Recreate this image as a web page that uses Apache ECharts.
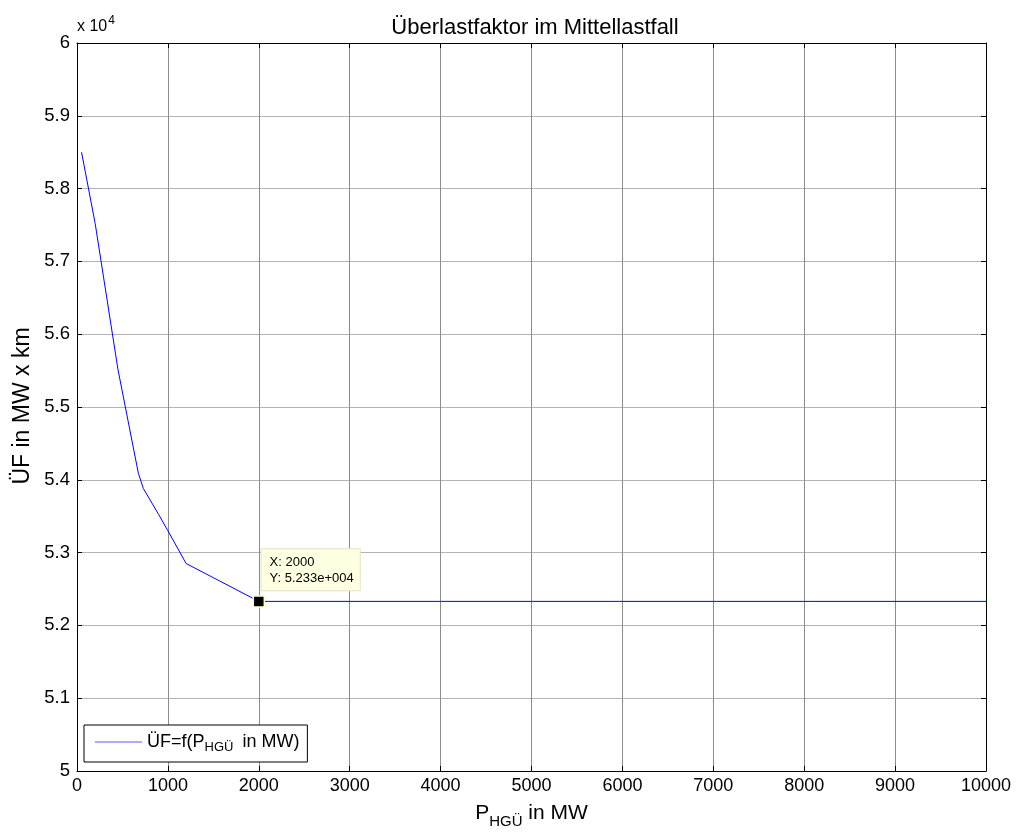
<!DOCTYPE html>
<html lang="de">
<head>
    <meta charset="UTF-8">
    <title>Überlastfaktor</title>
    <script src="https://cdn.jsdelivr.net/npm/echarts@6/dist/echarts.min.js"></script>
</head>
<body style="margin:0;background:#fff">
    <div id="main" style="width: 1017px; height: 835px"></div>
    <script type="text/javascript">
      // data (P in MW, UF in MW x km)
      const pValues = [50, 200, 450, 675, 730, 900, 1000, 1200, 2000,
                       3000, 4000, 5000, 6000, 7000, 8000, 9000, 10000];
      const ufValues = [58500, 57520, 55520, 54090, 53880, 53520, 53300, 52850, 52330,
                        52330, 52330, 52330, 52330, 52330, 52330, 52330, 52330];
      const xTickLabels = ['0', '1000', '2000', '3000', '4000', '5000',
                           '6000', '7000', '8000', '9000', '10000'];
      const yTickLabels = ['5', '5.1', '5.2', '5.3', '5.4', '5.5', '5.6', '5.7', '5.8', '5.9', '6'];
      const tip = { x: 2000, y: 52330, label: ['X: 2000', 'Y: 5.233e+004'] };

      const font = 'Liberation Sans, Arial, sans-serif';
      const seriesName = 'ÜF=f(P HGÜ in MW)';
      let myChart = echarts.init(document.getElementById('main'));

      let data = pValues.map((p, i) => [p, ufValues[i]]);

      // MATLAB style box: ticks pointing inside on every side
      const boxAxis = {
        axisLine: { show: true, onZero: false, lineStyle: { color: '#000', width: 1 } },
        axisTick: { show: true, inside: true, length: 5, lineStyle: { color: '#000' } }
      };

      let options = {
        animation: false,
        backgroundColor: '#fff',
        title: {
          text: 'Überlastfaktor im Mittellastfall',
          left: 530, top: 12, textAlign: 'center',
          textStyle: { fontFamily: font, fontSize: 22, fontWeight: 'normal', color: '#000' }
        },
        legend: {
          left: 84, top: 725,
          padding: [8, 8, 8, 11],
          backgroundColor: '#fff',
          borderColor: '#000', borderWidth: 1, borderRadius: 0,
          itemWidth: 47, itemHeight: 1,
          icon: 'rect',
          data: [{ name: seriesName, itemStyle: { color: '#5a5aff' } }],
          formatter: () => 'ÜF=f(P{sub|HGÜ} in MW)',
          textStyle: {
            fontFamily: font, fontSize: 18, color: '#000',
            rich: {
              sub: { fontFamily: font, fontSize: 13, padding: [11, 4, 0, 0] }
            }
          }
        },
        grid: { left: 77, right: 31, top: 43, bottom: 64, containLabel: false },
        xAxis: [
          Object.assign({
            type: 'value', min: 0, max: 10000, interval: 1000, position: 'bottom',
            name: 'P{sub|HGÜ} in MW', nameLocation: 'middle', nameGap: 27,
            nameTextStyle: {
              fontFamily: font, fontSize: 21, color: '#000',
              rich: { sub: { fontFamily: font, fontSize: 15, padding: [16, 0, 0, 0] } }
            },
            axisLabel: {
              fontFamily: font, fontSize: 18, color: '#000', margin: 6,
              formatter: (v) => xTickLabels[Math.round(v / 1000)]
            },
            splitLine: { show: true, lineStyle: { color: '#8c8c8c', width: 1 } }
          }, boxAxis),
          Object.assign({
            type: 'value', min: 0, max: 10000, interval: 1000, position: 'top',
            axisLabel: { show: false }, splitLine: { show: false }
          }, boxAxis)
        ],
        yAxis: [
          Object.assign({
            type: 'value', min: 50000, max: 60000, interval: 1000, position: 'left',
            name: 'x 10{sup|4}', nameLocation: 'end', nameGap: 5,
            nameTextStyle: {
              fontFamily: font, fontSize: 16, color: '#000', align: 'left',
              rich: { sup: { fontFamily: font, fontSize: 12, padding: [0, 0, 11, 1] } }
            },
            axisLabel: {
              fontFamily: font, fontSize: 18.5, color: '#000', margin: 7,
              formatter: (v) => yTickLabels[Math.round((v - 50000) / 1000)]
            },
            splitLine: { show: true, lineStyle: { color: '#b4b4b4', width: 1 } }
          }, boxAxis),
          Object.assign({
            type: 'value', min: 50000, max: 60000, interval: 1000, position: 'right',
            axisLabel: { show: false }, splitLine: { show: false }
          }, boxAxis)
        ],
        graphic: [{
          type: 'text', x: 23, y: 406, rotation: Math.PI / 2,
          style: {
            text: 'ÜF in MW x km', fontFamily: font, fontSize: 23, fill: '#000',
            align: 'center', verticalAlign: 'middle'
          }
        }],
        series: [{
          name: seriesName,
          type: 'line',
          data: data,
          showSymbol: false,
          symbol: 'none',
          lineStyle: { color: '#0000ff', width: 1 },
          itemStyle: { color: '#0000ff' },
          markPoint: {
            symbol: 'rect', symbolSize: 11,
            itemStyle: { color: '#000', borderColor: '#ffffcc', borderWidth: 1.5 },
            label: {
              show: true, position: [9, -46],
              formatter: tip.label.join('\n'),
              fontFamily: font, fontSize: 13, color: '#000', lineHeight: 16,
              backgroundColor: '#ffffe1', borderColor: '#e4e4c4', borderWidth: 1,
              padding: [5, 6, 4, 8], align: 'left', verticalAlign: 'top'
            },
            data: [{ coord: [tip.x, tip.y] }]
          }
        }]
      };

      myChart.setOption(options);
    </script>
</body>
</html>
